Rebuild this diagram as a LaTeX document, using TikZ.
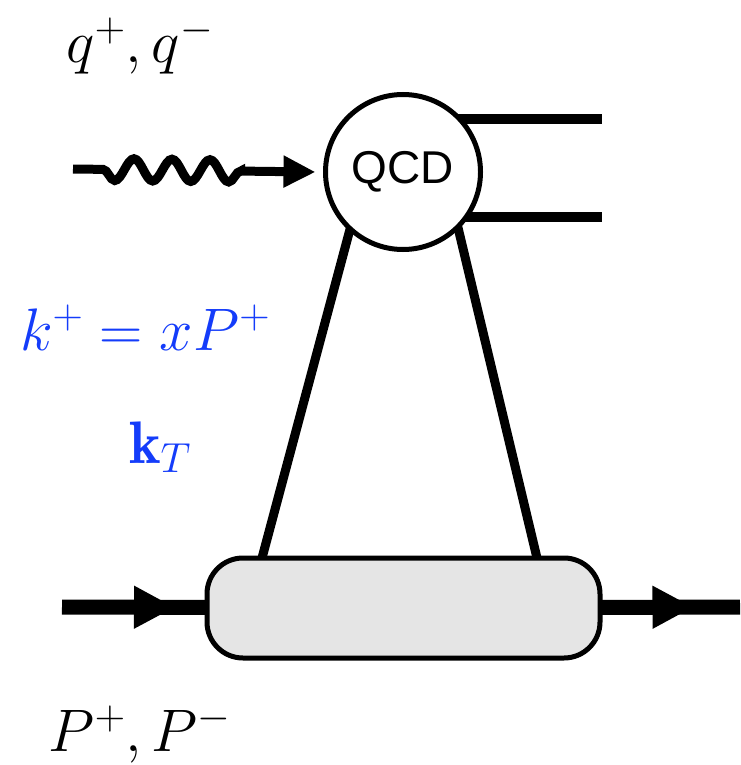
\RequirePackage{fix-cm}
\documentclass[tikz,border=0pt]{standalone}
\usepackage{amsmath}
\usepackage{fontspec}
\newfontfamily\qcdfont{Liberation Sans}
\usepackage{tikz}
\usepackage{xcolor}
\usetikzlibrary{shapes,arrows.meta,positioning,calc,backgrounds,decorations.pathmorphing,decorations.markings}

\definecolor{labelblue}{RGB}{20,60,250}
\definecolor{blobgray}{gray}{0.9}

\begin{document}
\begin{tikzpicture}[x=1pt, y=-1pt,
    bigtext/.style={font=\fontsize{60}{60}\selectfont, anchor=base, inner sep=0pt},
    vertex/.style={draw, line width=5pt, inner sep=0pt, outer sep=0pt},
    leg/.style={line width=9pt},
    jet/.style={line width=10pt},
    hadron/.style={line width=15pt},
    photon/.style={line width=9pt, -{Triangle[length=32pt,width=30pt]}, decorate,
        decoration={snake, mirror, amplitude=11pt, segment length=38pt, pre length=30pt, post length=58pt}}]
    \useasboundingbox (0,0) rectangle (740,765);

    % Hard vertex and target blob
    \node[vertex, circle, fill=white, minimum size=155pt, font=\qcdfont\fontsize{46}{46}\selectfont] (qcd) at (403,172) {QCD};
    \node[vertex, rectangle, rounded corners=36pt, fill=blobgray, minimum width=393pt, minimum height=100pt] (blob) at (403.5,608) {};

    % Free ends
    \coordinate (gin) at (73,169);
    \coordinate (jet1) at (602,119);
    \coordinate (jet2) at (602,217);
    \coordinate (pin) at (62,607);
    \coordinate (pout) at (740,607);

    % Lines (behind the vertices)
    \begin{scope}[on background layer]
        \draw[leg] (qcd.227) -- ($(blob.north west)+(55,0)$);
        \draw[leg] (qcd.-45) -- ($(blob.north east)+(-63,0)$);
        \draw[jet] (jet1 -| qcd.center) -- (jet1);
        \draw[jet] (jet2 -| qcd.center) -- (jet2);
        \draw[hadron, postaction={decorate}, decoration={markings,
            mark=at position 113pt with {\arrow{Triangle[length=41pt,width=40pt]}}}] (pin) -- (blob.center);
        \draw[hadron, postaction={decorate}, decoration={markings,
            mark=at position 290pt with {\arrow{Triangle[length=41pt,width=40pt]}}}] (blob.center) -- (pout);
    \end{scope}

    % Photon
    \draw[photon] (gin) -- ($(qcd.west)+(-10,0)$);

    % Labels
    \node[bigtext] (qlab) at (140,63) {$q^+, q^-$};
    \node[bigtext, text=labelblue] (klab) at (145,350) {$k^+ = xP^+$};
    \node[bigtext, text=labelblue] (ktlab) at (160,463) {$\mathbf{k}_T$};
    \node[bigtext] (plab) at (140,751) {$P^+, P^-$};
\end{tikzpicture}
\end{document}
